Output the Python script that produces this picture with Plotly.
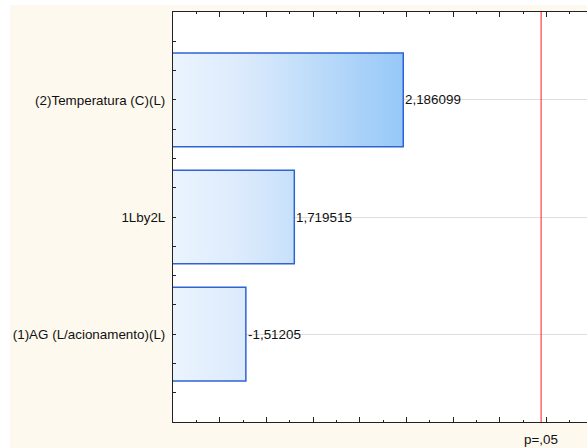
import plotly.graph_objects as go

# Pareto chart of standardized effects
factors = ["(1)AG (L/acionamento)(L)", "1Lby2L", "(2)Temperatura (C)(L)"]
effects = [-1.51205, 1.719515, 2.186099]
p_crit = 2.776445          # t critical value, p = .05
p_label = "p=,05"

X_RANGE = [1.2, 2.973]
Y_RANGE = [-0.75, 2.75]
BAR_HALF = 0.4
FONT = "Liberation Sans, Arial, sans-serif"
FSIZE = 13.4

BEIGE = "#fef9ef"
OUTLINE = "#2f63d3"
GRAD = [[0.0, "#ebf4fe"], [0.31, "#dbeafc"], [0.53, "#c6e0fa"], [1.0, "#96c8f8"]]


def fmt(v):
    s = f"{v:.6f}".rstrip("0").rstrip(".")
    return s.replace(".", ",")


fig = go.Figure()

for i, (name, eff) in enumerate(zip(factors, effects)):
    v = abs(eff)
    fig.add_trace(go.Scatter(
        x=[0, v, v, 0, 0],
        y=[i - BAR_HALF, i - BAR_HALF, i + BAR_HALF, i + BAR_HALF, i - BAR_HALF],
        mode="lines",
        fill="toself",
        fillgradient=dict(type="horizontal", colorscale=GRAD,
                          start=X_RANGE[0], stop=max(abs(e) for e in effects)),
        line=dict(color=OUTLINE, width=1.5),
        hoverinfo="skip",
        showlegend=False,
    ))
    fig.add_annotation(
        x=v, y=i, xref="x", yref="y", text=fmt(eff),
        showarrow=False, xanchor="left", yanchor="middle", xshift=0,
        font=dict(family=FONT, size=FSIZE, color="#111111"),
    )

# critical value line
fig.add_shape(type="line", xref="x", yref="paper", x0=p_crit, x1=p_crit, y0=0, y1=1,
              line=dict(color="#ff1a1a", width=1), layer="above")
fig.add_annotation(x=p_crit, y=0, xref="x", yref="paper", text=p_label,
                   showarrow=False, xanchor="center", yanchor="top", yshift=-8,
                   font=dict(family=FONT, size=FSIZE, color="#111111"))

# white border strips around the beige page
fig.add_shape(type="rect", xref="paper", yref="paper", x0=-0.45, x1=-0.3937, y0=-0.1, y1=1.1,
              fillcolor="white", line=dict(width=0), layer="below")
fig.add_shape(type="rect", xref="paper", yref="paper", x0=-0.45, x1=1.1, y0=1.017, y1=1.1,
              fillcolor="white", line=dict(width=0), layer="below")

fig.update_xaxes(
    range=X_RANGE, showgrid=False, zeroline=False, showticklabels=False,
    showline=True, linecolor="#222222", linewidth=1, mirror="ticks",
    ticks="inside", tick0=1.2, dtick=0.2, ticklen=5, tickcolor="#222222",
    minor=dict(ticks="inside", dtick=0.1, ticklen=2, tickcolor="#222222"),
    automargin=False,
)
fig.update_yaxes(
    range=Y_RANGE, tickvals=list(range(len(factors))), ticktext=factors,
    showgrid=True, gridcolor="#dedede", gridwidth=1, zeroline=False,
    showline=True, linecolor="#222222", linewidth=1, mirror=False,
    ticks="inside", ticklen=3, tickcolor="#222222",
    minor=dict(ticks="inside", dtick=0.25, tick0=0, ticklen=3, tickcolor="#222222"),
    tickfont=dict(family=FONT, size=FSIZE, color="#111111"),
    ticklabelstandoff=4, automargin=False,
)

fig.update_layout(
    width=587, height=448,
    margin=dict(l=173, r=0, t=12, b=26),
    paper_bgcolor=BEIGE, plot_bgcolor="white",
    showlegend=False,
)

fig.write_html("out.html")
